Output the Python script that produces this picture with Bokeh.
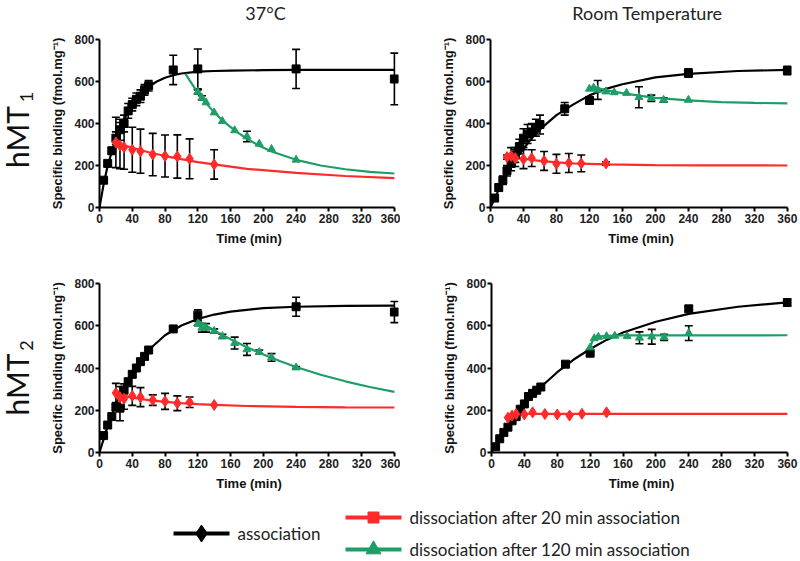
import math
from bokeh.plotting import figure
from bokeh.models import ColumnDataSource, Whisker, TeeHead, Range1d, FixedTicker
from bokeh.layouts import column, row
from bokeh.embed import file_html
from bokeh.resources import INLINE
from bokeh.core.properties import value

# ---------------- data ----------------
X_TICKS = [0, 40, 80, 120, 160, 200, 240, 280, 320, 360]
Y_TICKS = [0, 200, 400, 600, 800]

T_ASSOC = [5, 10, 15, 20, 25, 30, 35, 40, 45, 50, 55, 60, 90, 120, 240, 360]
T_D20 = [20, 25, 30, 40, 50, 65, 80, 95, 110, 140]
T_D120 = [120, 125, 130, 140, 150, 165, 180, 195, 210, 240]

# hMT1, 37 C
tl_assoc = [130, 210, 270, 330, 370, 400, 460, 490, 515, 530, 560, 580, 655, 660, 660, 612]
tl_assoc_err = [10, 10, 15, 30, 50, 40, 35, 30, 30, 30, 25, 25, 70, 95, 93, 123]
tl_d20 = [310, 295, 287, 275, 268, 252, 245, 243, 232, 205]
tl_d20_err = [120, 110, 105, 107, 105, 101, 100, 103, 95, 70]
tl_d120 = [550, 522, 500, 452, 411, 367, 338, 303, 278, 227]
tl_d120_err = [10, 10, 0, 0, 0, 0, 25, 0, 0, 0]
tl_fit_assoc_t = [0, 5, 10, 20, 30, 40, 50, 60, 70, 80, 90, 100, 120, 140, 160, 200, 240, 300, 360]
tl_fit_assoc_v = [0, 110, 200, 330, 420, 490, 540, 575, 600, 618, 630, 638, 647, 650, 652, 654, 655, 655, 655]
tl_fit_d20_t = [18, 30, 40, 60, 80, 100, 120, 140, 180, 240, 300, 360]
tl_fit_d20_v = [310, 296, 284, 263, 245, 230, 216, 205, 184, 165, 150, 140]
tl_fit_d120_t = [105, 110, 120, 130, 140, 150, 165, 180, 195, 210, 240, 270, 300, 330, 360]
tl_fit_d120_v = [636, 605, 547, 497, 454, 415, 367, 327, 294, 267, 227, 200, 182, 170, 162]

# hMT1, room temperature
tr_assoc = [45, 95, 130, 175, 210, 250, 290, 330, 350, 360, 380, 395, 470, 510, 640, 652]
tr_assoc_err = [15, 15, 20, 25, 35, 35, 35, 45, 45, 40, 40, 45, 30, 15, 20, 20]
tr_d20 = [240, 245, 235, 230, 235, 222, 208, 212, 210, 210]
tr_d20_err = [10, 40, 40, 45, 40, 45, 45, 45, 40, 8]
tr_d120 = [565, 570, 560, 552, 548, 545, 525, 520, 512, 512]
tr_d120_err = [0, 0, 45, 0, 0, 0, 50, 15, 10, 0]
tr_fit_assoc_t = [0, 10, 20, 30, 40, 50, 60, 80, 100, 120, 140, 160, 200, 240, 300, 360]
tr_fit_assoc_v = [0, 85, 160, 225, 280, 330, 372, 440, 490, 534, 565, 587, 620, 636, 650, 655]
tr_fit_d20_t = [18, 30, 40, 60, 80, 100, 140, 200, 260, 360]
tr_fit_d20_v = [245, 238, 232, 222, 215, 210, 205, 202, 201, 200]
tr_fit_d120_t = [125, 140, 160, 180, 200, 240, 280, 320, 360]
tr_fit_d120_v = [575, 558, 545, 533, 522, 510, 502, 498, 496]

# hMT2, 37 C
bl_assoc = [80, 130, 170, 215, 210, 295, 335, 370, 400, 430, 455, 485, 585, 650, 690, 665]
bl_assoc_err = [5, 5, 5, 15, 60, 30, 10, 10, 10, 10, 10, 10, 10, 25, 45, 50]
bl_d20 = [282, 262, 255, 268, 262, 248, 242, 233, 238, 225]
bl_d20_err = [45, 50, 50, 45, 45, 25, 38, 35, 25, 0]
bl_d120 = [610, 590, 590, 575, 550, 518, 488, 475, 450, 402]
bl_d120_err = [10, 20, 20, 10, 10, 28, 28, 10, 18, 5]
bl_fit_assoc_t = [0, 10, 20, 30, 40, 50, 60, 80, 100, 120, 140, 160, 200, 240, 300, 360]
bl_fit_assoc_v = [0, 126, 229, 313, 382, 438, 485, 555, 601, 632, 653, 667, 683, 690, 694, 695]
bl_fit_d20_t = [18, 30, 40, 60, 80, 100, 120, 140, 180, 240, 300, 360]
bl_fit_d20_v = [280, 268, 260, 248, 240, 234, 229, 225, 220, 216, 214, 213]
bl_fit_d120_t = [120, 140, 160, 180, 200, 220, 240, 270, 300, 330, 360]
bl_fit_d120_v = [625, 578, 536, 498, 464, 433, 405, 368, 337, 310, 287]

# hMT2, room temperature
br_assoc = [27, 65, 95, 120, 150, 170, 205, 230, 265, 280, 295, 310, 418, 470, 680, 710]
br_assoc_err = [5, 5, 5, 5, 5, 5, 5, 5, 10, 5, 5, 5, 8, 10, 12, 15]
br_d20 = [165, 175, 182, 180, 190, 182, 180, 175, 183, 190]
br_d20_err = [0, 0, 0, 0, 0, 0, 0, 0, 0, 0]
br_d120 = [497, 540, 547, 550, 552, 550, 543, 548, 545, 565]
br_d120_err = [0, 0, 0, 0, 0, 0, 28, 35, 15, 35]
br_fit_assoc_t = [0, 10, 20, 30, 40, 50, 60, 80, 100, 120, 140, 160, 200, 240, 300, 360]
br_fit_assoc_v = [0, 64, 123, 176, 224, 268, 310, 380, 440, 490, 533, 568, 619, 656, 690, 711]
br_fit_d20_t = [16, 20, 25, 30, 40, 60, 360]
br_fit_d20_v = [163, 170, 178, 182, 183, 183, 183]
br_fit_d120_t = [120, 123, 126, 130, 140, 160, 360]
br_fit_d120_v = [498, 530, 545, 549, 552, 554, 555]

COL_TITLES = ["37°C", "Room Temperature"]
ROW_LABELS = ["hMT", "hMT"]
ROW_SUBS = ["1", "2"]
X_LABEL = "Time (min)"
Y_LABEL = "Specific binding (fmol.mg⁻¹)"
LEGEND_LABELS = ["association", "dissociation after 20 min association",
                 "dissociation after 120 min association"]

# ---------------- styles ----------------
BLACK = "#000000"
RED = "#ff2a2a"
GREEN = "#1f9d66"
AX_FONT = "Liberation Sans"
TXT_FONT = "Lato"


def blank(width, height, x0, x1, y0, y1):
    f = figure(width=width, height=height, output_backend="svg", toolbar_location=None,
               x_range=Range1d(x0, x1), y_range=Range1d(y0, y1),
               min_border=0, min_border_left=0, min_border_right=0,
               min_border_top=0, min_border_bottom=0)
    f.axis.visible = False
    f.grid.visible = False
    f.outline_line_color = None
    return f


def make_panel(width, height, bl, br, bt, bb, series):
    p = figure(width=width, height=height, output_backend="svg", toolbar_location=None,
               x_range=Range1d(0, 365), y_range=Range1d(0, 800),
               min_border_left=bl, min_border_right=br, min_border_top=bt, min_border_bottom=bb)
    p.outline_line_color = None
    p.grid.visible = False
    for ax in (p.xaxis[0], p.yaxis[0]):
        ax.axis_line_width = 2
        ax.major_tick_line_width = 2
        ax.major_tick_out = 4
        ax.major_tick_in = 0
        ax.minor_tick_line_color = None
        ax.major_label_text_font = AX_FONT
        ax.major_label_text_font_style = "bold"
        ax.major_label_text_font_size = "12px"
        ax.major_label_text_color = "#222222"
        ax.axis_label_text_font = AX_FONT
        ax.axis_label_text_font_style = "bold"
        ax.axis_label_text_font_size = "13px"
        ax.axis_label_text_color = "#111111"
    p.xaxis.ticker = FixedTicker(ticks=X_TICKS)
    p.yaxis.ticker = FixedTicker(ticks=Y_TICKS)
    p.xaxis.bounds = (0, 360)
    p.yaxis.bounds = (0, 800)
    p.xaxis.axis_label = X_LABEL
    p.yaxis.axis_label = Y_LABEL
    p.xaxis.major_label_standoff = 2
    p.xaxis.axis_label_standoff = 5
    p.yaxis.major_label_standoff = 1
    p.yaxis.axis_label_standoff = 6

    (a, ae, d20, d20e, d120, d120e,
     fat, fav, fdt, fdv, fgt, fgv) = series
    p.line(fat, fav, line_color=BLACK, line_width=2.2)
    p.line(fdt, fdv, line_color=RED, line_width=2.2)
    p.line(fgt, fgv, line_color=GREEN, line_width=2.2)
    for ts_, vs, es in ((T_ASSOC, a, ae), (T_D20, d20, d20e), (T_D120, d120, d120e)):
        keep = [i for i, e in enumerate(es) if e > 0]
        src = ColumnDataSource(dict(t=[ts_[i] for i in keep],
                                    lo=[vs[i] - es[i] for i in keep],
                                    hi=[vs[i] + es[i] for i in keep]))
        w = Whisker(source=src, base="t", upper="hi", lower="lo", dimension="height",
                    line_color=BLACK, line_width=1.6,
                    upper_head=TeeHead(size=8, line_color=BLACK, line_width=1.6),
                    lower_head=TeeHead(size=8, line_color=BLACK, line_width=1.6))
        p.add_layout(w)
    p.scatter(T_ASSOC, a, marker="square", size=8, color=BLACK)
    p.scatter(T_D20, d20, marker="diamond", size=11, color=RED)
    p.scatter(T_D120, d120, marker="triangle", size=8, color=GREEN)
    return p


# panels (frames at image x 99..398 / 490..791, y 39..207 / 283..452)
tl = make_panel(360, 224, 59, 2, 15, 41,
                (tl_assoc, tl_assoc_err, tl_d20, tl_d20_err, tl_d120, tl_d120_err,
                 tl_fit_assoc_t, tl_fit_assoc_v, tl_fit_d20_t, tl_fit_d20_v, tl_fit_d120_t, tl_fit_d120_v))
tr = make_panel(400, 224, 90, 9, 15, 41,
                (tr_assoc, tr_assoc_err, tr_d20, tr_d20_err, tr_d120, tr_d120_err,
                 tr_fit_assoc_t, tr_fit_assoc_v, tr_fit_d20_t, tr_fit_d20_v, tr_fit_d120_t, tr_fit_d120_v))
bl = make_panel(360, 247, 59, 2, 35, 43,
                (bl_assoc, bl_assoc_err, bl_d20, bl_d20_err, bl_d120, bl_d120_err,
                 bl_fit_assoc_t, bl_fit_assoc_v, bl_fit_d20_t, bl_fit_d20_v, bl_fit_d120_t, bl_fit_d120_v))
br = make_panel(400, 247, 91, 9, 35, 43,
                (br_assoc, br_assoc_err, br_d20, br_d20_err, br_d120, br_d120_err,
                 br_fit_assoc_t, br_fit_assoc_v, br_fit_d20_t, br_fit_d20_v, br_fit_d120_t, br_fit_d120_v))

# title strip: image x 40..800, y 0..24 (data y = 24 - image y)
ts = blank(760, 24, 40, 800, 0, 24)
ts.text([265, 647], [24 - 12.5, 24 - 12.5], text=COL_TITLES, text_font=value(TXT_FONT),
        text_font_size="18px", text_align="center", text_baseline="middle",
        text_color="#222222")

# row-label strip: image x 0..40, y 0..495 (data y = 495 - image y)
ls = blank(40, 495, 0, 40, 0, 495)
ls.text([16.5, 16.5], [495 - 136.5, 495 - 384], text=ROW_LABELS, angle=math.pi / 2,
        text_font=value(TXT_FONT), text_font_size="30px", text_align="center",
        text_baseline="middle", text_color="#111111")
ls.text([25.5, 25.5], [495 - 96.5, 495 - 345], text=ROW_SUBS, angle=math.pi / 2,
        text_font=value(TXT_FONT), text_font_size="18px", text_align="center",
        text_baseline="middle", text_color="#111111")

# ---------------- legend strip: image y 495..561 ----------------
lg = blank(800, 66, 0, 800, 0, 66)
leg_items = [
    (LEGEND_LABELS[0], BLACK, "diamond", 17, 173, 229, 533),
    (LEGEND_LABELS[1], RED, "square", 11, 345, 401, 517),
    (LEGEND_LABELS[2], GREEN, "triangle", 15, 345, 401, 549),
]
for label, colr, mk, sz, x0, x1, yy in leg_items:
    yd = 561 - yy
    lg.line([x0, x1], [yd, yd], line_color=colr, line_width=4)
    lg.scatter([(x0 + x1) / 2], [yd], marker=mk, size=sz, color=colr)
    lg.text([x1 + 8], [yd], text=[label], text_font=value(TXT_FONT), text_font_size="17px",
            text_baseline="middle", text_align="left", text_color="#222222")

right_block = column(ts, row(tl, tr), row(bl, br))
layout = column(row(ls, right_block), lg)
open("out.html", "w").write(file_html(layout, INLINE))
